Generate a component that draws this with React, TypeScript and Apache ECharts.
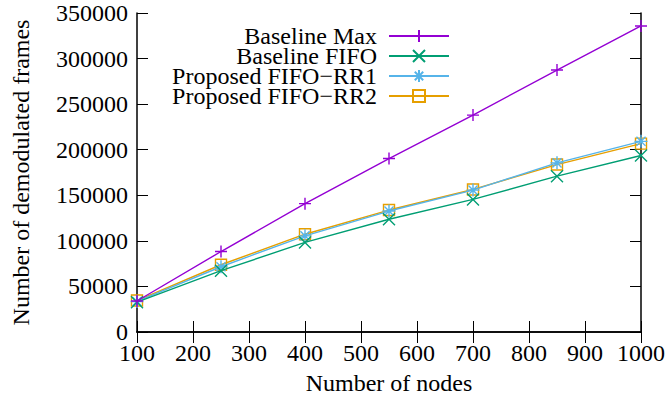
import React, { useEffect, useRef } from 'react';
import * as echarts from 'echarts';

const nodes = [100, 250, 400, 550, 700, 850, 1000];
const baselineMax = [34000, 88300, 140800, 190300, 238000, 287400, 335800];
const baselineFifo = [32700, 67300, 98300, 123700, 145500, 171000, 193600];
const proposedRR1 = [33500, 71600, 105500, 132700, 155700, 185600, 209200];
const proposedRR2 = [34500, 73800, 107300, 133800, 156400, 183700, 206700];

const seriesNames = ['Baseline Max', 'Baseline FIFO', 'Proposed FIFO\u2212RR1', 'Proposed FIFO\u2212RR2'];
const seriesValues = [baselineMax, baselineFifo, proposedRR1, proposedRR2];
const colors = ['#9400d3', '#009e73', '#56b4e9', '#e69f00'];
const symbols = [
  'path://M0,5L10,5M5,0L5,10',
  'path://M0,0L10,10M0,10L10,0',
  'path://M0,5L10,5M5,0L5,10M1.5,1.5L8.5,8.5M1.5,8.5L8.5,1.5',
  'path://M0,0L10,0L10,10L0,10Z',
];
const symbolSizes = [12, 12, 13, 11];

const xTitle = 'Number of nodes';
const yTitle = 'Number of demodulated frames';

const FONT = 'Liberation Serif';

export default function App() {
  const ref = useRef<HTMLDivElement>(null);
  useEffect(() => {
    if (!ref.current) return;
    const chart = echarts.init(ref.current, null, { renderer: 'svg' });
    const axisLine = { show: true, lineStyle: { color: '#000', width: 1.5 } };
    const axisTick = { show: true, inside: true, length: 11, lineStyle: { color: '#000', width: 1 } };
    const labelStyle = { fontSize: 24, fontFamily: FONT, color: '#000' };
    chart.setOption({
      animation: false,
      backgroundColor: '#fff',
      grid: { left: 137, right: 27, top: 13, bottom: 67, containLabel: false },
      legend: {
        orient: 'vertical',
        align: 'right',
        right: 218,
        top: 24,
        padding: 0,
        itemWidth: 60,
        itemHeight: 15,
        itemGap: -4,
        selectedMode: false,
        textStyle: { fontSize: 24, fontFamily: FONT, color: '#000', lineHeight: 20, padding: [0, 7, 0, 0] },
        data: seriesNames,
      },
      xAxis: [
        {
          type: 'value',
          min: 100,
          max: 1000,
          interval: 100,
          position: 'bottom',
          axisLine,
          axisTick,
          splitLine: { show: false },
          axisLabel: { ...labelStyle, margin: 11, lineHeight: 20, formatter: (v: number) => String(v) },
          name: xTitle,
          nameLocation: 'middle',
          nameGap: 39,
          nameTextStyle: labelStyle,
        },
        {
          type: 'value',
          min: 100,
          max: 1000,
          interval: 100,
          position: 'top',
          axisLine,
          axisTick,
          splitLine: { show: false },
          axisLabel: { show: false },
        },
      ],
      yAxis: [
        {
          type: 'value',
          min: 0,
          max: 350000,
          interval: 50000,
          position: 'left',
          axisLine,
          axisTick,
          splitLine: { show: false },
          axisLabel: { ...labelStyle, margin: 9, lineHeight: 20, formatter: (v: number) => String(v) },
          name: yTitle,
          nameLocation: 'middle',
          nameGap: 104,
          nameTextStyle: labelStyle,
        },
        {
          type: 'value',
          min: 0,
          max: 350000,
          interval: 50000,
          position: 'right',
          axisLine,
          axisTick,
          splitLine: { show: false },
          axisLabel: { show: false },
        },
      ],
      series: seriesNames.map((name, i) => ({
        name,
        type: 'line',
        xAxisIndex: 0,
        yAxisIndex: 0,
        data: nodes.map((n, j) => [n, seriesValues[i][j]]),
        symbol: symbols[i],
        symbolSize: symbolSizes[i],
        showAllSymbol: true,
        color: colors[i],
        lineStyle: { color: colors[i], width: 1.4 },
        itemStyle: { color: 'rgba(0,0,0,0)', borderColor: colors[i], borderWidth: 1.4 },
        emphasis: { disabled: true },
        z: 10 - i,
      })),
    });
    return () => chart.dispose();
  }, []);
  return <div ref={ref} style={{ position: 'absolute', left: 0, top: 0, width: 668, height: 400 }} />;
}
